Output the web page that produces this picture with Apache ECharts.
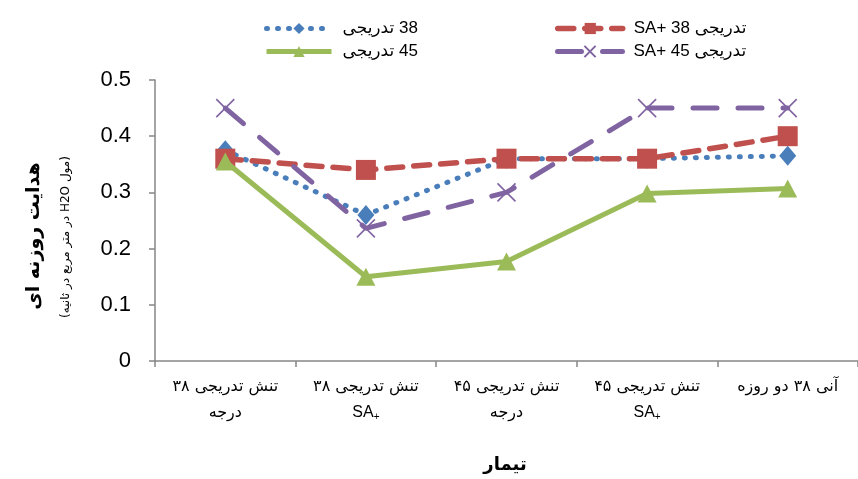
<!DOCTYPE html>
<html>
<head>
<meta charset="utf-8">
<script src="https://cdn.jsdelivr.net/npm/echarts@6/dist/echarts.min.js"></script>
<style>
html,body{margin:0;padding:0;background:#fff;}
#chart{width:858px;height:479px;direction:rtl;}
</style>
</head>
<body>
<div id="chart"></div>
<script>
// ---- data ----
const categories = ["تنش تدریجی ۳۸\nدرجه", "تنش تدریجی ۳۸\n+SA", "تنش تدریجی ۴۵\nدرجه", "تنش تدریجی ۴۵\n+SA", "آنی ۳۸ دو روزه"];
const seriesNames = ["38 تدریجی", "تدریجی 38 +SA", "45 تدریجی", "تدریجی 45 +SA"];
const s38 = [0.375, 0.26, 0.36, 0.36, 0.365];
const s38SA = [0.36, 0.34, 0.36, 0.36, 0.40];
const s45 = [0.355, 0.15, 0.177, 0.298, 0.307];
const s45SA = [0.45, 0.236, 0.30, 0.45, 0.45];
const yTicks = [0, 0.1, 0.2, 0.3, 0.4, 0.5];
const yTitle = "هدایت روزنه ای";
const yUnit = "(مول H2O در متر مربع در ثانیه)";
const xTitle = "تیمار";

const chart = echarts.init(document.getElementById('chart'), null, {renderer: 'canvas'});
const axisGray = '#868686';
const latin = '"Liberation Sans", "DejaVu Sans", sans-serif';
const arab = '"DejaVu Sans", sans-serif';

const blueLine = {color: '#4A7EBB', width: 5, type: [1, 10], cap: 'round'};
const redLine = {color: '#C0504D', width: 5.5, type: [16, 11], cap: 'round'};
const greenLine = {color: '#9BBB59', width: 5};
const purpleLine = {color: '#8064A2', width: 5, type: [24, 21], cap: 'round'};

function legendAt(name, left, top, ls) {
  return {
    data: [name], left: left, top: top, itemWidth: 65, itemHeight: 14,
    lineStyle: ls,
    textStyle: {fontSize: 17, color: '#000', fontFamily: latin, padding: [0, 0, 0, 6]},
    selectedMode: false
  };
}

const option = {
  animation: false,
  backgroundColor: '#fff',
  legend: [
    legendAt(seriesNames[0], 259, 15, blueLine),
    legendAt(seriesNames[1], 550, 15, redLine),
    legendAt(seriesNames[2], 259, 38, greenLine),
    legendAt(seriesNames[3], 550, 38, purpleLine)
  ],
  grid: {left: 155, top: 80, height: 281, width: 710, containLabel: false},
  xAxis: {
    type: 'category', data: categories, boundaryGap: true,
    axisLine: {lineStyle: {color: axisGray, width: 1.5}},
    axisTick: {show: true, length: 6, alignWithLabel: false, lineStyle: {color: axisGray, width: 1.5}},
    axisLabel: {
      interval: 0, margin: 13, color: '#000', fontSize: 16, fontFamily: arab, lineHeight: 26,
      formatter: function (v) { return v.replace('+SA', '{sa|SA}{p|+}'); },
      rich: {
        sa: {fontSize: 16, fontFamily: latin, color: '#000', lineHeight: 26},
        p: {fontSize: 10, fontFamily: latin, color: '#000', lineHeight: 26, padding: [8, 0, 0, 0]}
      }
    }
  },
  yAxis: {
    type: 'value', min: 0, max: 0.5, interval: 0.1,
    axisLine: {show: true, lineStyle: {color: axisGray, width: 1.5}},
    axisTick: {show: true, length: 6, lineStyle: {color: axisGray, width: 1.5}},
    splitLine: {show: false},
    axisLabel: {
      margin: 24, color: '#000', fontSize: 22, fontFamily: latin,
      formatter: function (v) {
        const m = yTicks.find(t => Math.abs(t - v) < 1e-9);
        return m === undefined ? '' : String(m);
      }
    }
  },
  graphic: [
    {type: 'text', x: 34, y: 236, rotation: Math.PI / 2,
     style: {text: yTitle, font: 'bold 19px ' + arab, fill: '#000', align: 'center', verticalAlign: 'middle'}},
    {type: 'text', x: 66, y: 237, rotation: Math.PI / 2,
     style: {text: yUnit, font: '12px ' + arab, fill: '#000', align: 'center', verticalAlign: 'middle'}},
    {type: 'text', x: 505, y: 465,
     style: {text: xTitle, font: 'bold 18px ' + arab, fill: '#000', align: 'center', verticalAlign: 'middle'}}
  ],
  series: [
    {
      name: seriesNames[0], type: 'line', data: s38, z: 2,
      symbol: 'diamond', symbolSize: [17, 20],
      itemStyle: {color: '#4A7EBB'},
      lineStyle: blueLine
    },
    {
      name: seriesNames[1], type: 'line', data: s38SA, z: 3,
      symbol: 'rect', symbolSize: 20,
      itemStyle: {color: '#C0504D'},
      lineStyle: redLine
    },
    {
      name: seriesNames[2], type: 'line', data: s45, z: 4,
      symbol: 'triangle', symbolSize: [19, 18],
      itemStyle: {color: '#9BBB59'},
      lineStyle: greenLine
    },
    {
      name: seriesNames[3], type: 'line', data: s45SA, z: 5,
      symbol: 'path://M0,0L10,10M10,0L0,10', symbolSize: 18,
      itemStyle: {color: 'rgba(0,0,0,0)', borderColor: '#8064A2', borderWidth: 1.6},
      lineStyle: purpleLine
    }
  ]
};
chart.setOption(option);
</script>
</body>
</html>
